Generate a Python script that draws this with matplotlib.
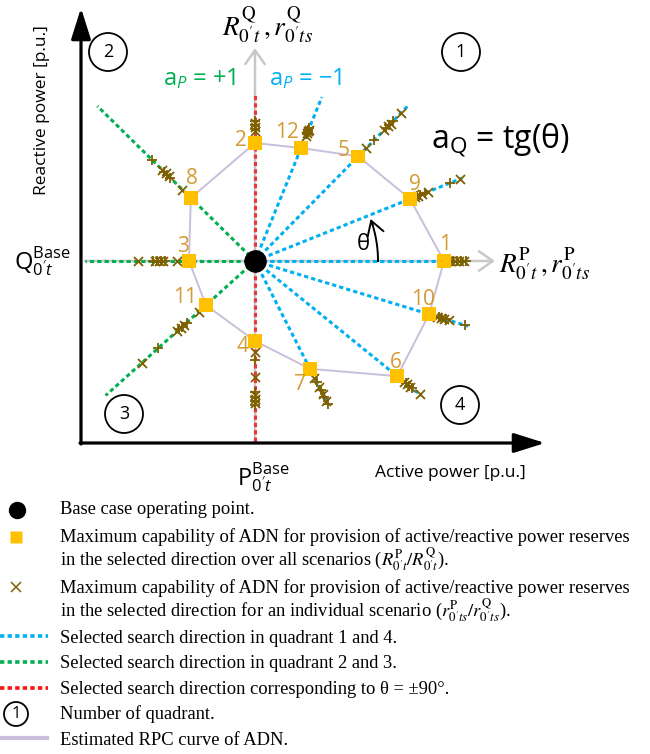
import numpy as np
import matplotlib
matplotlib.use('Agg')
import matplotlib.pyplot as plt
from matplotlib.patches import Circle

# ---------------- data (P/Q plane, base point at origin) ----------------
point_ids = [1, 9, 5, 12, 2, 8, 3, 11, 4, 7, 6, 10]
theta_deg = [0, 21.8, 45.4, 67.8, 90, 135.5, 180, 222, 270, 297, 321, 343]
r_max = [189, 167, 147, 122, 118, 90, 66, 66, 80, 121, 183, 182]
dir_len = [212, 223, 220, 177, 168, 221, 170, 201, 182, 162, 214, 223]
dir_group = ['q14', 'q14', 'q14', 'q14', 'v90', 'q23', 'q23', 'q23', 'v90', 'q14', 'q14', 'q14']
scen_r = [
    [195, 198, 200, 202, 204, 206, 209, 211],
    [172, 174, 176, 178, 180, 183, 186, 210, 221],
    [158, 170, 184, 187, 189, 191, 193, 196, 208],
    [135, 137, 138, 139, 140, 141, 142, 144],
    [130, 132, 134, 136, 138, 140],
    [102, 119, 121, 123, 125, 127, 130, 144],
    [78, 90, 92, 94, 96, 98, 100, 102, 117],
    [76, 92, 95, 98, 100, 102, 105, 130, 152],
    [91, 99, 116, 131, 134, 136, 138, 140, 142, 144],
    [131, 136, 141, 145, 149, 153, 157, 161],
    [192, 194, 196, 198, 200, 202, 212],
    [190, 192, 194, 196, 198, 200, 203, 220],
]
rpc_order = [1, 9, 5, 12, 2, 8, 3, 11, 4, 7, 6, 10, 1]
quadrants = [1, 2, 3, 4]

# ---------------- styles / layout ----------------
C_BLUE = '#00B0F0'
C_GREEN = '#00B050'
C_RED = '#E8383D'
C_SQ = '#FFC000'
C_X = '#7F6000'
C_LAB = '#D39B33'
C_RPC = '#C9BFDA'
C_GRAY = '#C8C8C8'
group_color = {'q14': C_BLUE, 'q23': C_GREEN, 'v90': C_RED}
dash = (0, (1.4, 1.0))
label_off = {1: (1, 17), 9: (5, 14), 5: (-15, 6), 12: (-14, 16), 2: (-14, 3), 8: (1, 19),
             3: (-6, 15), 11: (-21, 8), 4: (-12, -6), 7: (-10, -16), 6: (-1, 14), 10: (-6, 15)}
quad_pos = {1: (206, 209), 2: (-147, 209), 3: (-131, -153), 4: (205, -144)}

SANS = ['Open Sans', 'DejaVu Sans']
SERIF = ['Liberation Serif', 'DejaVu Serif']
plt.rcParams['mathtext.fontset'] = 'custom'
plt.rcParams['mathtext.rm'] = 'Open Sans'
plt.rcParams['mathtext.it'] = 'Open Sans:italic'
plt.rcParams['mathtext.bf'] = 'Open Sans:bold'
plt.rcParams['mathtext.sf'] = 'Open Sans'

fig = plt.figure(figsize=(6.5, 7.54), dpi=100)
ax = fig.add_axes([0, 0, 1, 1])
ax.set_xlim(-255, 395)
ax.set_ylim(-493, 261)
ax.axis('off')

# black main axes
head = '-|>,head_length=0.95,head_width=0.3'
ax.annotate('', xy=(-174, 253), xytext=(-174, -183),
            arrowprops=dict(arrowstyle=head, lw=2.3, color='black', mutation_scale=20,
                            shrinkA=0, shrinkB=0))
ax.annotate('', xy=(290, -182), xytext=(-175, -182),
            arrowprops=dict(arrowstyle=head, lw=2.3, color='black', mutation_scale=20,
                            shrinkA=0, shrinkB=0))
# gray reserve axes
ax.annotate('', xy=(240, 0), xytext=(-170, 0),
            arrowprops=dict(arrowstyle='->,head_length=0.5,head_width=0.35', lw=1.8,
                            color=C_GRAY, mutation_scale=20, shrinkA=0, shrinkB=0), zorder=1)
ax.annotate('', xy=(0, 213), xytext=(0, -182),
            arrowprops=dict(arrowstyle='->,head_length=0.5,head_width=0.35', lw=1.8,
                            color=C_GRAY, mutation_scale=20, shrinkA=0, shrinkB=0), zorder=1)

th = np.radians(theta_deg)
# search directions
for t, L, g in zip(th, dir_len, dir_group):
    ax.plot([0, L * np.cos(t)], [0, L * np.sin(t)], color=group_color[g], lw=2.2,
            linestyle=dash, zorder=2)

# RPC curve
idx = {pid: i for i, pid in enumerate(point_ids)}
px = np.array([r * np.cos(t) for r, t in zip(r_max, th)])
py = np.array([r * np.sin(t) for r, t in zip(r_max, th)])
ax.plot([px[idx[p]] for p in rpc_order], [py[idx[p]] for p in rpc_order],
        color=C_RPC, lw=1.4, zorder=3)

# individual scenario markers
for t, rs in zip(th, scen_r):
    rs = np.array(rs)
    xs, ys = rs * np.cos(t), rs * np.sin(t)
    ax.scatter(xs[0::2], ys[0::2], marker='x', s=42, color=C_X, lw=1.3, zorder=4)
    ax.scatter(xs[1::2], ys[1::2], marker='+', s=55, color=C_X, lw=1.3, zorder=4)

# maximum capability squares
ax.scatter(px, py, marker='s', s=95, color=C_SQ, edgecolors='none', zorder=5)
for i, pid in enumerate(point_ids):
    ax.annotate(str(pid), (px[i], py[i]), xytext=label_off[pid], textcoords='offset pixels',
                ha='center', va='center', fontsize=15, color=C_LAB, family=SANS, zorder=6)

# base point
ax.scatter([0], [0], s=230, color='black', zorder=7)

# theta arc
arc_r = 123
aa = np.radians(np.linspace(0, 17, 30))
ax.plot(arc_r * np.cos(aa), arc_r * np.sin(aa), color='black', lw=1.4, zorder=6)
a1, a2 = np.radians(17), np.radians(20)
ax.annotate('', xy=(arc_r * np.cos(a2), arc_r * np.sin(a2)),
            xytext=(arc_r * np.cos(a1), arc_r * np.sin(a1)),
            arrowprops=dict(arrowstyle='->,head_length=0.5,head_width=0.3', lw=1.4,
                            color='black', mutation_scale=20, shrinkA=0, shrinkB=0), zorder=6)
ax.text(108, 17, 'θ', fontsize=16, family=SANS, ha='center', va='center')

# quadrant circles
for q in quadrants:
    x, y = quad_pos[q]
    ax.add_patch(Circle((x, y), 19, fill=False, lw=1.3, ec='black'))
    ax.text(x, y, str(q), fontsize=13, family=SANS, ha='center', va='center')

# texts
ax.text(-55, 182, r'a$_{P}$ = +1', fontsize=17, color=C_GREEN, family=SANS,
        ha='center', va='center')
ax.text(51, 182, r'a$_{P}$ = −1', fontsize=17, color=C_BLUE, family=SANS,
        ha='center', va='center')
ax.text(245, 121, r'a$_{\mathrm{Q}}$ = tg(θ)', fontsize=23, color='black', family=SANS,
        ha='center', va='center')
ax.text(-213, 151, 'Reactive power [p.u.]', fontsize=12.5, family=SANS, rotation=90,
        ha='center', va='center')
ax.text(195, -212, 'Active power [p.u.]', fontsize=12.5, family=SANS, ha='center', va='center')
ax.text(13, 236, r"$R^{\mathrm{Q}}_{0't}\,,r^{\mathrm{Q}}_{0'ts}$", fontsize=19.5,
        math_fontfamily='stix', ha='center', va='center')
ax.text(244, -3, r"$R^{\mathrm{P}}_{0't}\,,r^{\mathrm{P}}_{0'ts}$", fontsize=19.5,
        math_fontfamily='stix', ha='left', va='center')
ax.text(-241, 0, r"$\mathrm{Q}^{\mathrm{Base}}_{\mathrm{0'}t}$", fontsize=17, family=SANS,
        ha='left', va='center')
ax.text(8, -216, r"$\mathrm{P}^{\mathrm{Base}}_{\mathrm{0'}t}$", fontsize=17, family=SANS,
        ha='center', va='center')

# ---------------- legend ----------------
lax = fig.add_axes([0, 0, 1, 1])
lax.set_xlim(0, 650)
lax.set_ylim(754, 0)
lax.axis('off')
lax.patch.set_visible(False)

leg_text = [
    (508, 'Base case operating point.'),
    (536, 'Maximum capability of ADN for provision of active/reactive power reserves'),
    (561, r"in the selected direction over all scenarios ($R^{\mathrm{P}}_{0't}/R^{\mathrm{Q}}_{0't}$)."),
    (587, 'Maximum capability of ADN for provision of active/reactive power reserves'),
    (612, r"in the selected direction for an individual scenario ($r^{\mathrm{P}}_{0'ts}/r^{\mathrm{Q}}_{0'ts}$)."),
    (637, 'Selected search direction in quadrant 1 and 4.'),
    (662, 'Selected search direction in quadrant 2 and 3.'),
    (688, 'Selected search direction corresponding to θ = ±90°.'),
    (713, 'Number of quadrant.'),
    (739, 'Estimated RPC curve of ADN.'),
]
for y, s in leg_text:
    lax.text(60, y + 6, s, fontsize=13.3, family=SERIF, math_fontfamily='stix',
             ha='left', va='baseline')

lax.plot([17], [510], 'o', color='black', ms=11.5)
lax.plot([16], [537], 's', color=C_SQ, ms=8.5, mec='none')
lax.plot([16], [587], 'x', color=C_X, ms=7, mew=1.1)
lax.plot([0, 48], [636, 636], color=C_BLUE, lw=2.6, linestyle=(0, (1.2, 0.9)))
lax.plot([0, 48], [662, 662], color=C_GREEN, lw=2.6, linestyle=(0, (1.2, 0.9)))
lax.plot([0, 48], [688, 688], color='#FF1010', lw=2.6, linestyle=(0, (1.2, 0.9)))
lax.add_patch(Circle((16, 714), 12, fill=False, lw=1.3, ec='black'))
lax.text(16, 714, '1', fontsize=12, family=SANS, ha='center', va='center')
lax.plot([0, 47], [738, 738], color=C_RPC, lw=3)

fig.savefig('out.png', dpi=100)
